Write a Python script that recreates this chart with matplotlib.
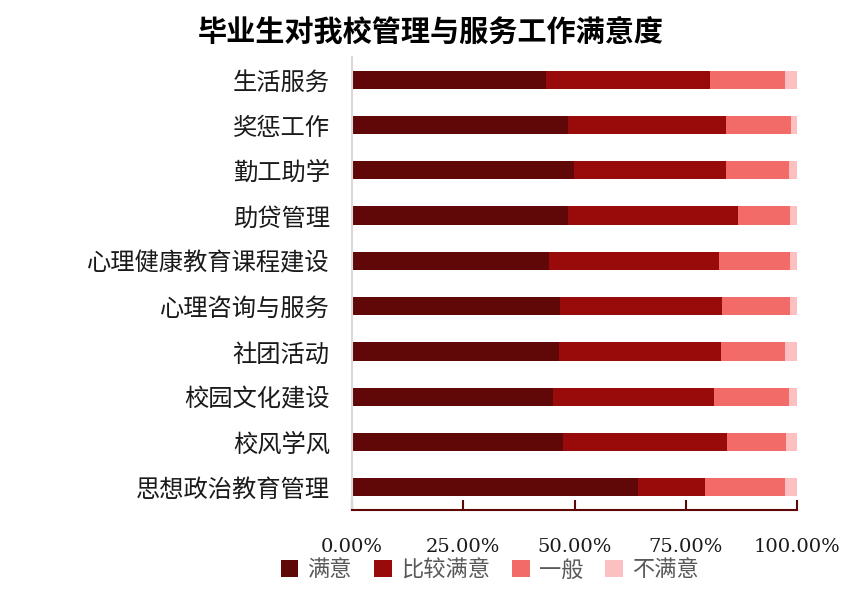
import matplotlib
matplotlib.use("Agg")
import matplotlib.pyplot as plt
import numpy as np

plt.rcParams['font.family'] = ['Noto Sans CJK SC', 'DejaVu Sans']

categories = ["生活服务", "奖惩工作", "勤工助学", "助贷管理", "心理健康教育课程建设",
              "心理咨询与服务", "社团活动", "校园文化建设", "校风学风", "思想政治教育管理"]
very_satisfied = [43.6, 48.6, 49.9, 48.6, 44.3, 46.8, 46.6, 45.2, 47.5, 64.3]
satisfied = [36.9, 35.5, 34.2, 38.2, 38.2, 36.4, 36.4, 36.2, 36.8, 15.1]
neutral = [16.7, 14.6, 14.0, 11.7, 16.0, 15.3, 14.4, 16.7, 13.3, 17.8]
unsatisfied = [2.8, 1.3, 1.9, 1.5, 1.5, 1.5, 2.6, 1.9, 2.4, 2.8]

series = [("满意", very_satisfied, "#600808"),
          ("比较满意", satisfied, "#990b0b"),
          ("一般", neutral, "#f36b69"),
          ("不满意", unsatisfied, "#fdc0c0")]

xticks = [0, 25, 50, 75, 100]
xtick_labels = ["0.00%", "25.00%", "50.00%", "75.00%", "100.00%"]

fig = plt.figure(figsize=(8.62, 5.90), dpi=100)
ax = fig.add_axes([0.4084, 0.1356, 0.5162, 0.7678])

y = np.arange(len(categories))
left = np.zeros(len(categories))
for name, vals, color in series:
    ax.barh(y, vals, left=left, height=0.4, color=color, label=name)
    left += np.array(vals)

ax.set_xlim(0, 100)
ax.set_ylim(len(categories) - 0.5, -0.5)
ax.set_yticks(y)
ax.set_yticklabels(categories, fontsize=17.5, color="#1a1a1a")
ax.tick_params(axis="y", length=0, pad=16)

ax.set_xticks(xticks)
ax.set_xticklabels(xtick_labels, fontsize=14, family="DejaVu Serif", color="#1a1a1a")
ax.tick_params(axis="x", direction="in", length=7, width=1.5, color="#600808", pad=20)

for s in ["top", "right"]:
    ax.spines[s].set_visible(False)
ax.spines["bottom"].set_color("#600808")
ax.spines["bottom"].set_linewidth(1.5)
ax.spines["left"].set_color("#d9d9d9")
ax.spines["left"].set_linewidth(1.5)

fig.text(0.5, 0.944, "毕业生对我校管理与服务工作满意度", ha="center", va="center",
         fontsize=21, fontweight="bold")

fig.legend(loc="center", bbox_to_anchor=(0.568, 0.034), ncol=4, frameon=False,
           fontsize=16, handlelength=0.8, handleheight=0.8, handletextpad=0.4,
           columnspacing=1.0, labelcolor="#595959")

fig.savefig("out.png", dpi=100)
